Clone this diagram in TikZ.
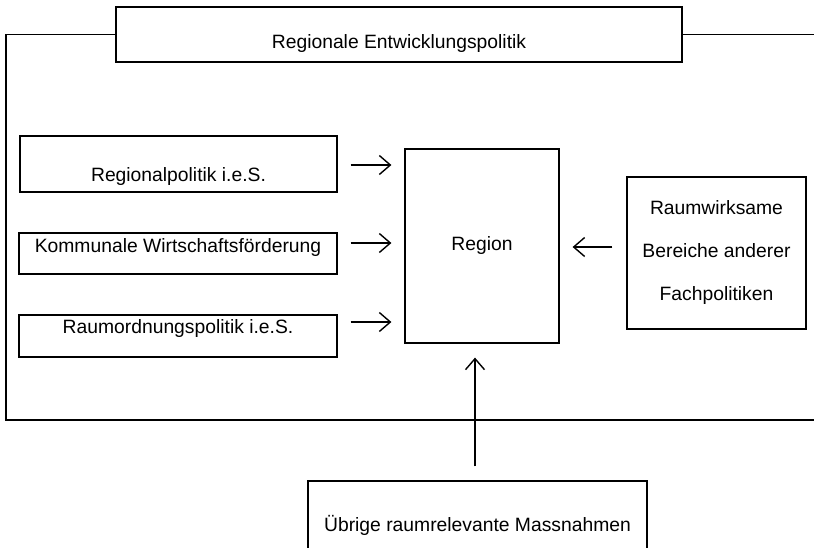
\documentclass[tikz,border=0pt]{standalone}
\usepackage{fontspec}
\setmainfont{Liberation Sans}
\usetikzlibrary{arrows.meta,calc}
\tikzset{
  box/.style={draw,line width=1.2pt,inner sep=0pt},
  arr/.style={line width=1.4pt,-{Straight Barb[length=11pt,width=19pt,line width=1.4pt]}},
}
\begin{document}
\begin{tikzpicture}[x=1pt,y=-1pt,font=\fontsize{19.3}{23}\selectfont]
\useasboundingbox (0,0) rectangle (814,547);
\node[box,minimum width=566pt,minimum height=55pt,label={[yshift=-9.5pt]center:Regionale Entwicklungspolitik}] (title) at (399,34.5) {};
\node[box,minimum width=317pt,minimum height=56pt,label={[yshift=-13pt]center:Regionalpolitik i.e.S.}] (b1) at (178.5,164) {};
\node[box,minimum width=318pt,minimum height=41pt,label={[yshift=5.5pt]center:Kommunale Wirtschaftsförderung}] (b2) at (178,253.5) {};
\node[box,minimum width=318pt,minimum height=42pt,label={[yshift=7pt]center:Raumordnungspolitik i.e.S.}] (b3) at (178,336) {};
\node[box,minimum width=154pt,minimum height=194pt] (reg) at (482,246) {Region};
\node[box,minimum width=179pt,minimum height=152pt,align=center,font=\fontsize{19.3}{43}\selectfont] (fach) at (716.5,253) {Raumwirksame\\Bereiche anderer\\Fachpolitiken};
\node[box,minimum width=339pt,minimum height=88pt] (bot) at (477.5,525) {Übrige raumrelevante Massnahmen};
% outer frame
\draw[line width=1.2pt] (title.west) -- (6,34.5) |- (814,420);
\draw[line width=1.2pt] (title.east) -- (814,34.5);
% arrows
\draw[arr] ($(b1.east)+(13,1)$) -- ($(b1.east -| reg.west)+(-13,1)$);
\draw[arr] ($(b2.east)+(13,-10.5)$) -- ($(b2.east -| reg.west)+(-13,-10.5)$);
\draw[arr] ($(b3.east)+(13,-14)$) -- ($(b3.east -| reg.west)+(-13,-14)$);
\draw[arr] ($(fach.west)+(-14,-6)$) -- ($(fach.west -| reg.east)+(13,-6)$);
\draw[arr] ($(bot.north)+(-2.5,-14)$) -- ($(bot.north |- reg.south)+(-2.5,14)$);
\end{tikzpicture}
\end{document}
